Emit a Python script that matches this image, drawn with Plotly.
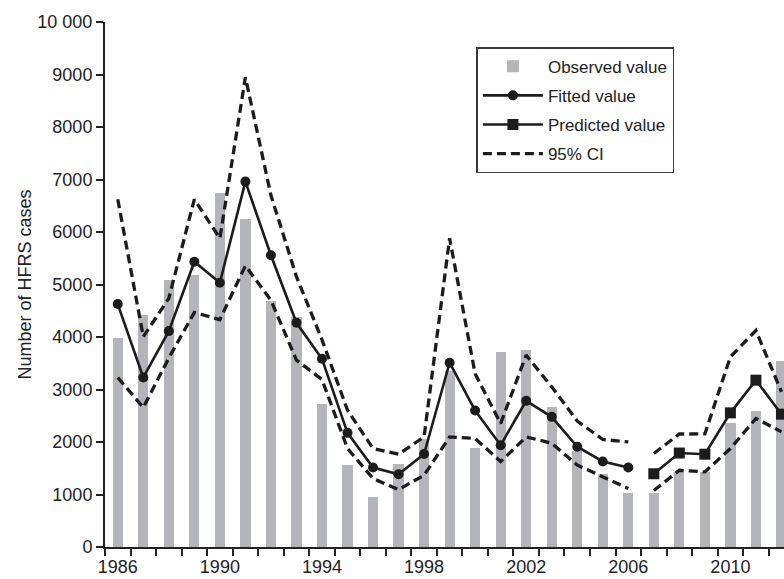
import plotly.graph_objects as go

# ---------------- data ----------------
years = list(range(1986, 2013))
observed = [3990, 4420, 5090, 5190, 6740, 6240, 4680, 4390, 2720, 1565,
            945, 1580, 2060, 3350, 1880, 3710, 3745, 2660, 1825, 1400,
            1020, 1035, 1430, 1435, 2355, 2595, 3545]

fit_years = list(range(1986, 2007))
fitted = [4627, 3229, 4112, 5434, 5034, 6960, 5558, 4271, 3585, 2174,
          1514, 1386, 1770, 3510, 2600, 1939, 2784, 2479, 1910, 1630, 1514]
fit_upper = [6623, 4004, 4736, 6623, 5880, 8949, 6700, 5150, 3950, 2606,
             1876, 1767, 2097, 5880, 3300, 2353, 3655, 3050, 2400, 2048, 2002]
fit_lower = [3229, 2657, 3600, 4468, 4330, 5358, 4700, 3560, 3190, 1876,
             1304, 1094, 1367, 2097, 2067, 1627, 2097, 1977, 1560, 1335, 1113]

pred_years = list(range(2007, 2013))
predicted = [1395, 1790, 1767, 2555, 3178, 2530]
pred_upper = [1781, 2152, 2154, 3622, 4124, 2955]
pred_lower = [1075, 1462, 1430, 1876, 2448, 2193]

y_tickvals = list(range(0, 10001, 1000))
y_ticktext = ["0", "1000", "2000", "3000", "4000", "5000", "6000",
              "7000", "8000", "9000", "10 000"]
x_tickvals = [1986, 1990, 1994, 1998, 2002, 2006, 2010]
x_boundaries = [y - 0.5 for y in years] + [years[-1] + 0.5]

# ---------------- styles ----------------
FONT = "Liberation Sans, Arial, Helvetica, sans-serif"
BAR_COLOR = "#b4b5b8"
LINE_COLOR = "#1c1c1c"
DASH = "9px,5px"

fig = go.Figure()

fig.add_trace(go.Bar(
    x=years, y=observed, width=0.4, marker_color=BAR_COLOR,
    marker_line_width=0, name="Observed value", legendrank=1,
    legendgroup="obs"))

ci_sets = [(fit_years, fit_upper, True), (fit_years, fit_lower, False),
           (pred_years, pred_upper, False), (pred_years, pred_lower, False)]
for xs, ys, show in ci_sets:
    fig.add_trace(go.Scatter(
        x=xs, y=ys, mode="lines", name="95% CI", legendgroup="ci",
        showlegend=show, legendrank=4,
        line=dict(color=LINE_COLOR, width=3.3, dash=DASH)))

fig.add_trace(go.Scatter(
    x=fit_years, y=fitted, mode="lines+markers", name="Fitted value",
    legendrank=2, legendgroup="fit", line=dict(color=LINE_COLOR, width=2.6),
    marker=dict(symbol="circle", size=10, color=LINE_COLOR)))

fig.add_trace(go.Scatter(
    x=pred_years, y=predicted, mode="lines+markers", name="Predicted value",
    legendrank=3, legendgroup="pred", line=dict(color=LINE_COLOR, width=2.6),
    marker=dict(symbol="square", size=11, color=LINE_COLOR)))

fig.update_layout(
    width=784, height=579,
    margin=dict(l=105, r=0, t=22, b=32, pad=0, autoexpand=False),
    paper_bgcolor="white", plot_bgcolor="white",
    font=dict(family=FONT, color="#222222", size=17),
    bargap=0,
    legend=dict(
        x=0.547, y=0.952, xanchor="left", yanchor="top",
        bgcolor="white", bordercolor="#3a3a3a", borderwidth=1.5,
        font=dict(size=17, color="#222222"), itemwidth=60,
        tracegroupgap=4, traceorder="grouped"),
    showlegend=True,
)

fig.update_xaxes(
    range=[1985.5, 2012.1], tickmode="array", tickvals=x_tickvals,
    ticktext=[str(v) for v in x_tickvals], ticks="", showgrid=False,
    zeroline=False, showline=True, linecolor="#222222", linewidth=2,
    automargin=False, ticklabelstandoff=2,
    tickfont=dict(size=18, family=FONT, color="#222222"),
    minor=dict(tickmode="array", tickvals=x_boundaries, ticks="outside",
               ticklen=7, tickwidth=1.5, tickcolor="#222222", showgrid=False),
)

fig.update_yaxes(
    range=[0, 10000], tickmode="array", tickvals=y_tickvals,
    ticktext=y_ticktext, ticks="outside", ticklen=7, tickwidth=1.5,
    tickcolor="#222222", showgrid=False, zeroline=False, showline=True,
    linecolor="#222222", linewidth=2, automargin=False,
    tickfont=dict(size=18, family=FONT, color="#222222"),
    title=dict(text="Number of HFRS cases", font=dict(size=18, family=FONT),
               standoff=1),
)

fig.write_html(
    "out.html",
    config={"displayModeBar": False},
    post_script="document.body.style.margin='0';document.body.style.padding='0';"
                "document.body.style.overflow='hidden';"
                "window.dispatchEvent(new Event('resize'));",
)
